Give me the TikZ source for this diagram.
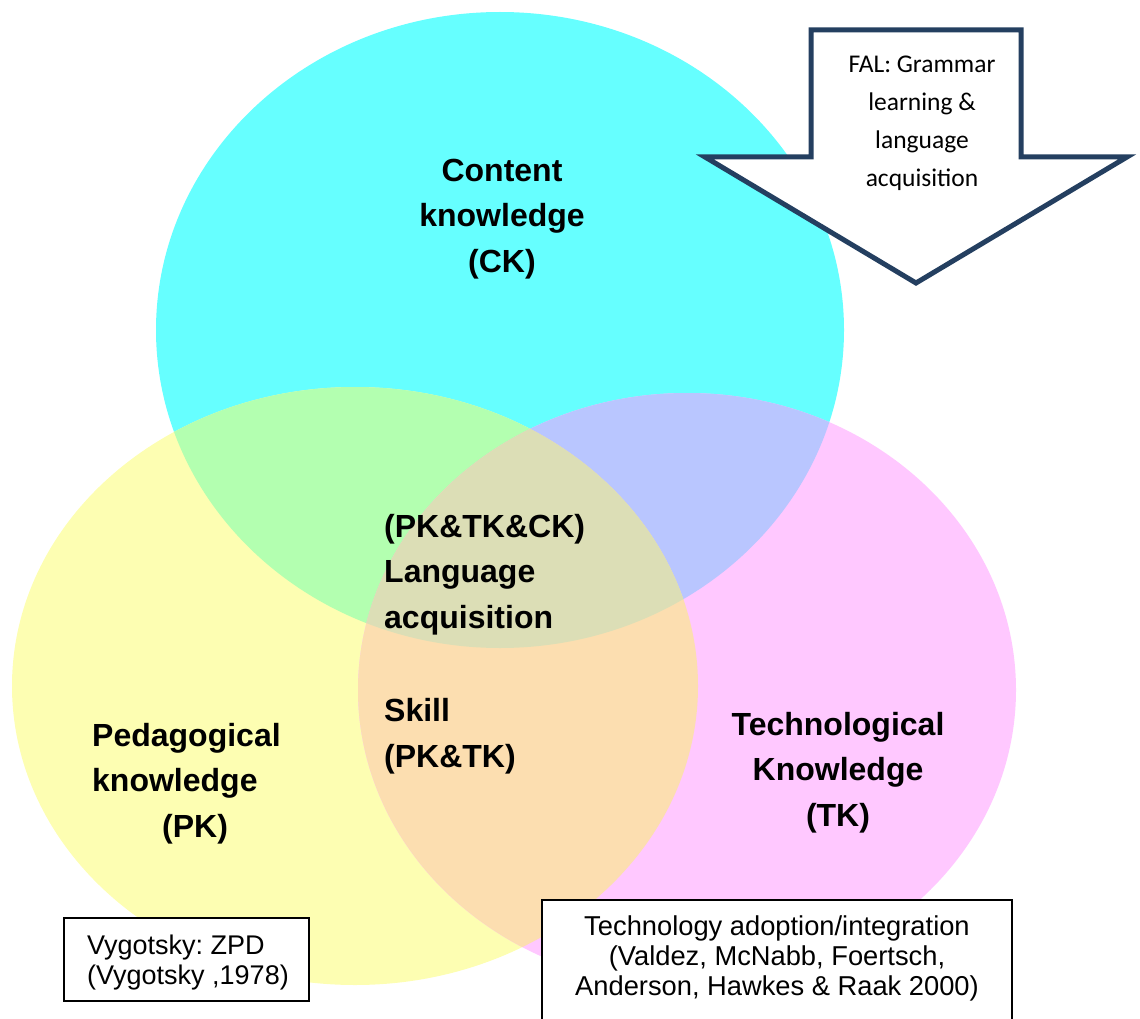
\documentclass[tikz,border=0pt]{standalone}
\usepackage{fontspec}
\setmainfont{Liberation Sans}
\newfontfamily\calfont{Carlito}
\frenchspacing
\definecolor{ckcol}{HTML}{66FFFF}
\definecolor{pkcol}{HTML}{FDFEB2}
\definecolor{tkcol}{HTML}{FFC8FF}
\definecolor{ckpk}{HTML}{B3FFB0}
\definecolor{cktk}{HTML}{B9C6FF}
\definecolor{pktk}{HTML}{FCDEB0}
\definecolor{allcol}{HTML}{DCDEB6}
\definecolor{arrowcol}{HTML}{243F60}
\def\CKpath{(500,330) ellipse [x radius=344pt, y radius=318pt]}
\def\PKpath{(355,686) ellipse [x radius=343pt, y radius=299pt]}
\def\TKpath{(687,690) ellipse [x radius=329pt, y radius=297pt]}
\begin{document}
\frenchspacing
\begin{tikzpicture}[x=1pt,y=-1pt,
  bigtext/.style={font=\bfseries\fontsize{32}{45.5}\selectfont, inner sep=0pt},
  arrowtext/.style={font=\calfont\fontsize{25.5}{38}\selectfont, inner sep=0pt, align=center},
  boxtext/.style={font=\fontsize{27}{30}\selectfont, inner sep=0pt},
  refbox/.style={draw=black, line width=1.6pt, fill=white},
  arrowline/.style={draw=arrowcol, line width=5pt, fill=white, line join=miter}]
\useasboundingbox (0,0) rectangle (1140,1019);
% base ellipses
\fill[ckcol] \CKpath;
\fill[pkcol] \PKpath;
\fill[tkcol] \TKpath;
% pairwise overlaps
\begin{scope}\clip \CKpath; \fill[ckpk] \PKpath; \end{scope}
\begin{scope}\clip \CKpath; \fill[cktk] \TKpath; \end{scope}
\begin{scope}\clip \PKpath; \fill[pktk] \TKpath; \end{scope}
\begin{scope}\clip \CKpath; \clip \PKpath; \fill[allcol] \TKpath; \end{scope}
% block arrow
\draw[arrowline] (811,30) -- (1021,30) -- (1021,157) -- (1127,157) -- (916,283) -- (705,157) -- (811,157) -- cycle;
\node[arrowtext, anchor=base] (fal) at (922,186) {FAL: Grammar\\learning \&\\language\\acquisition};
% main labels
\node[bigtext, align=center, anchor=base] (ck) at (502,272) {Content\\knowledge\\(CK)};
\node[bigtext, align=left, anchor=base west] (all) at (384,628) {(PK\&TK\&CK)\\Language\\acquisition};
\node[bigtext, align=left, anchor=base west] (skill) at (384,767) {Skill\\(PK\&TK)};
\node[bigtext, align=left, anchor=base west] (pk) at (92,837) {Pedagogical\\knowledge\\\hspace*{70pt}(PK)};
\node[bigtext, align=center, anchor=base] (tk) at (838,826) {Technological\\Knowledge\\(TK)};
% reference boxes
\path[refbox] (64,918) rectangle (309,1001);
\node[boxtext, align=left, anchor=base west] (vyg) at (87,984) {Vygotsky: ZPD\\(Vygotsky ,1978)};
\path[refbox] (542,900) rectangle (1012,1030);
\node[boxtext, font=\fontsize{27.3}{30}\selectfont, align=center, anchor=base] (tech) at (777,995) {Technology adoption/integration\\(Valdez, McNabb, Foertsch,\\Anderson, Hawkes \& Raak 2000)};
\end{tikzpicture}
\end{document}
